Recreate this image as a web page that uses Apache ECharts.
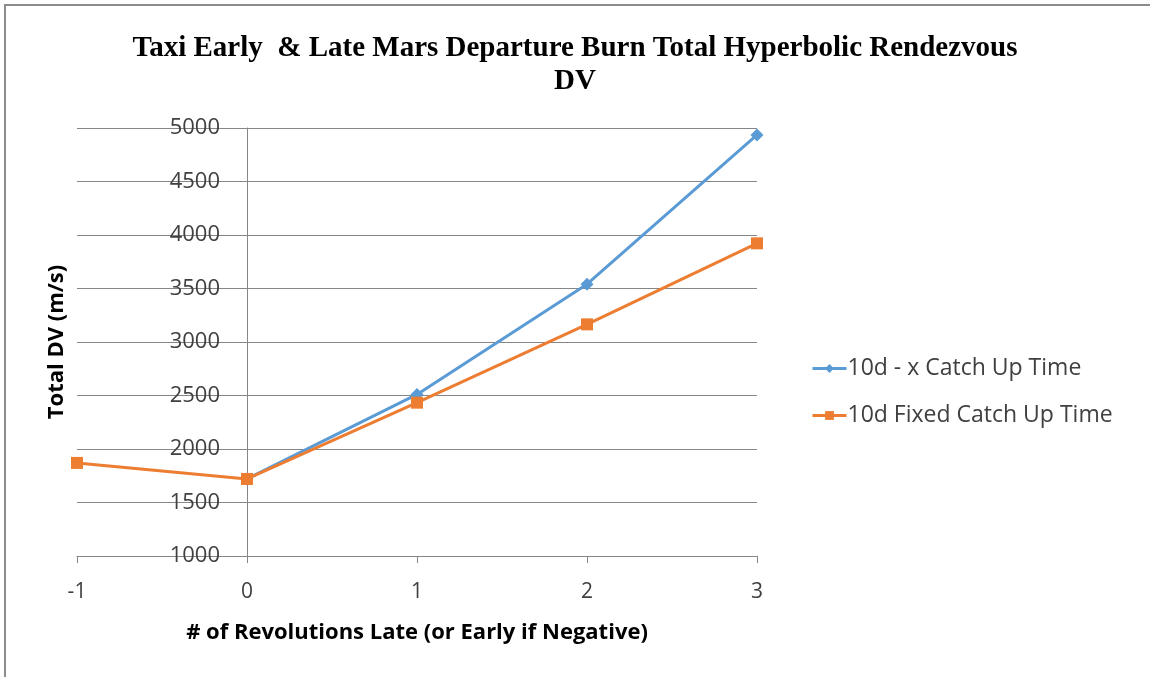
<!DOCTYPE html>
<html>
<head>
<meta charset="utf-8">
<script src="https://cdn.jsdelivr.net/npm/echarts@6/dist/echarts.min.js"></script>
<style>
html,body{margin:0;padding:0;background:#fff;}
#chart{width:1150px;height:677px;}
</style>
</head>
<body>
<div id="chart"></div>
<script>
const titleText = 'Taxi Early  & Late Mars Departure Burn Total Hyperbolic Rendezvous\nDV';
const xAxisName = '# of Revolutions Late (or Early if Negative)';
const yAxisName = 'Total DV (m/s)';
const seriesNames = ['10d - x Catch Up Time', '10d Fixed Catch Up Time'];
const xBlue = [0, 1, 2, 3];
const yBlue = [1720, 2510, 3540, 4935];
const xOrange = [-1, 0, 1, 2, 3];
const yOrange = [1870, 1720, 2433, 3165, 3922];
const xTicks = [-1, 0, 1, 2, 3];
const yTicks = [1000, 1500, 2000, 2500, 3000, 3500, 4000, 4500, 5000];

const chart = echarts.init(document.getElementById('chart'), null, {renderer: 'canvas'});
const axisGray = '#868686';
const option = {
  backgroundColor: '#fff',
  animation: false,
  title: {
    text: titleText,
    left: 'center',
    top: 27,
    textStyle: {
      fontFamily: 'Liberation Serif',
      fontWeight: 'bold',
      fontSize: 29,
      lineHeight: 33,
      color: '#000'
    }
  },
  graphic: [{
    type: 'rect',
    shape: {x: 5, y: 5, width: 1200, height: 700},
    style: {fill: 'none', stroke: '#8c8c8c', lineWidth: 2},
    silent: true
  }],
  legend: {
    orient: 'vertical',
    left: 806,
    top: 352,
    itemGap: 24,
    itemWidth: 34,
    itemHeight: 11,
    lineStyle: {width: 3},
    textStyle: {fontFamily: 'Open Sans', fontSize: 23, color: '#404040', padding: [0, 0, 0, -4]},
    data: seriesNames
  },
  grid: {left: 77, right: 393, top: 128, bottom: 121, containLabel: false, outerBoundsMode: 'none'},
  xAxis: {
    type: 'value',
    min: xTicks[0],
    max: xTicks[xTicks.length - 1],
    interval: 1,
    name: xAxisName,
    nameLocation: 'middle',
    nameGap: 66,
    nameTextStyle: {fontFamily: 'Open Sans', fontWeight: 'bold', fontSize: 22, color: '#000'},
    axisLine: {onZero: false, lineStyle: {color: axisGray, width: 1}},
    axisTick: {show: true, length: 7, inside: false, lineStyle: {color: axisGray}},
    axisLabel: {fontFamily: 'Open Sans', fontSize: 21, color: '#404040', margin: 26, formatter: v => String(v)},
    splitLine: {show: false}
  },
  yAxis: {
    type: 'value',
    min: yTicks[0],
    max: yTicks[yTicks.length - 1],
    interval: 500,
    name: yAxisName,
    nameLocation: 'middle',
    nameGap: 9,
    nameRotate: 90,
    nameTextStyle: {fontFamily: 'Open Sans', fontWeight: 'bold', fontSize: 22, color: '#000'},
    axisLine: {show: true, onZero: true, lineStyle: {color: axisGray, width: 1}},
    axisTick: {show: false},
    axisLabel: {fontFamily: 'Open Sans', fontSize: 22, color: '#404040', margin: -143, formatter: v => String(v)},
    splitLine: {show: true, lineStyle: {color: axisGray, width: 1}}
  },
  series: [
    {
      name: seriesNames[0],
      type: 'line',
      data: xBlue.map((x, i) => [x, yBlue[i]]),
      symbol: 'diamond',
      symbolSize: 13,
      lineStyle: {color: '#5B9BD5', width: 3},
      itemStyle: {color: '#5B9BD5'},
      z: 3
    },
    {
      name: seriesNames[1],
      type: 'line',
      data: xOrange.map((x, i) => [x, yOrange[i]]),
      symbol: 'rect',
      symbolSize: 12,
      lineStyle: {color: '#ED7D31', width: 3},
      itemStyle: {color: '#ED7D31'},
      z: 4
    }
  ]
};
chart.setOption(option);
</script>
</body>
</html>
